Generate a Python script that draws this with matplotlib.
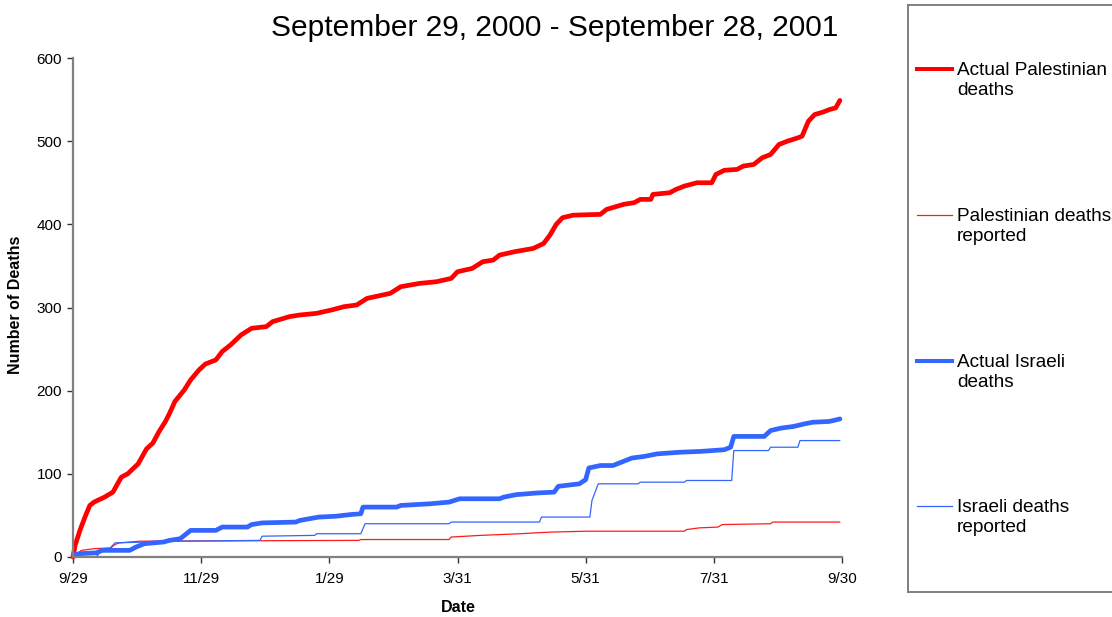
import matplotlib
matplotlib.use('Agg')
import matplotlib.pyplot as plt

plt.rcParams['font.family'] = ['Liberation Sans', 'DejaVu Sans']

# days since 9/29/2000 and cumulative deaths
pal_actual_days = [0, 1, 3.3, 5.7, 8, 10, 15, 19, 23, 26, 31, 35, 38, 41, 44, 46, 48.5, 53, 56, 60,
                   63, 68, 71, 75, 80, 85, 92, 95, 103, 108, 116, 123, 129, 135, 140, 151, 156, 165,
                   173, 180, 183, 190, 195, 200, 203, 210, 219, 224, 227, 230, 233, 238, 251, 254,
                   258, 262, 267, 270, 275, 276, 284, 287, 291, 297, 304, 306, 310, 316, 319, 324,
                   328, 332, 336, 340, 345, 347, 350, 353, 357, 360, 363, 365]
pal_actual = [0, 14, 32, 48, 62, 66, 72, 78, 96, 100, 112, 130, 137, 151, 163, 173, 187, 201, 213, 225,
              232, 237, 247, 255, 267, 275, 277, 283, 289, 291, 293, 297, 301, 303, 311, 317, 325, 329,
              331, 335, 343, 347, 355, 357, 363, 367, 371, 377, 387, 400, 408, 411, 412, 418,
              421, 424, 426, 430, 430, 436, 438, 442, 446, 450, 450, 460, 465, 466, 470, 472,
              480, 484, 496, 500, 504, 506, 524, 532, 535, 538, 540, 549]

pal_reported_days = [0, 4, 10, 18, 20, 22, 32, 136, 137, 179, 180, 194, 213, 220, 228, 244, 291, 292,
                     298, 307, 309, 332, 333, 365]
pal_reported = [0, 8, 10, 11, 15, 17, 19, 20, 21, 21, 24, 26, 28, 29, 30, 31, 31, 33,
                35, 36, 39, 40, 42, 42]

isr_actual_days = [0, 3, 11, 14, 27, 30, 34, 43, 46, 51, 56, 68, 71, 83, 85, 90, 106, 108, 117, 125,
                   132, 137, 138, 154, 156, 170, 179, 184, 203, 205, 211, 221, 229, 231, 241, 244,
                   245.5, 251, 257, 262, 266, 272, 278, 289, 299, 310, 313, 314.5, 329, 332, 337,
                   343, 348, 352, 360, 365]
isr_actual = [2, 4, 5, 8, 8, 12, 16, 18, 20, 22, 32, 32, 36, 36, 39, 41, 42, 44, 48, 49,
              51, 52, 60, 60, 62, 64, 66, 70, 70, 72, 75, 77, 78, 85, 88, 93,
              107, 110, 110, 115, 119, 121, 124, 126, 127, 129, 132, 145, 145, 152, 155,
              157, 160, 162, 163, 166]

isr_reported_days = [0, 11, 13, 17, 20, 50, 89, 90, 115, 116, 137, 139, 179, 180, 222, 223, 246, 247,
                     250, 269, 270, 291, 292, 313.5, 314.5, 331, 332, 345, 346, 365]
isr_reported = [0, 0, 6, 9, 17, 19, 20, 25, 26, 28, 28, 40, 40, 42, 42, 48, 48, 68,
                88, 88, 90, 90, 92, 92, 128, 128, 132, 132, 140, 140]

tick_days = [0, 61, 122, 183, 244, 305, 366]
tick_labels = ['9/29', '11/29', '1/29', '3/31', '5/31', '7/31', '9/30']

series = [
    ('Actual Palestinian\ndeaths', pal_actual_days, pal_actual, '#FF0000', 3.4),
    ('Palestinian deaths\nreported', pal_reported_days, pal_reported, '#FF1A1A', 0.9),
    ('Actual Israeli\ndeaths', isr_actual_days, isr_actual, '#3366FF', 3.4),
    ('Israeli deaths\nreported', isr_reported_days, isr_reported, '#3366FF', 0.9),
]

W, H = 1112, 617
fig = plt.figure(figsize=(W / 100, H / 100), dpi=100)
ax = fig.add_axes([73 / W, (H - 557) / H, (842 - 73) / W, (557 - 58) / H])

for label, xs, ys, color, lw in series:
    ax.plot(xs, ys, color=color, lw=lw, solid_joinstyle='round', solid_capstyle='round', clip_on=False)

ax.set_xlim(0, 366)
ax.set_ylim(0, 600)
ax.set_xticks(tick_days)
ax.set_xticklabels(tick_labels)
ax.set_yticks(range(0, 601, 100))
ax.tick_params(direction='out', length=4, width=1, color='#333333', labelsize=11, pad=4)
ax.tick_params(axis='x', pad=7)
for s in ['top', 'right']:
    ax.spines[s].set_visible(False)
for s in ['left', 'bottom']:
    ax.spines[s].set_color('#808080')
    ax.spines[s].set_linewidth(1.6)

fig.text(458 / W, 1 - 608 / H, 'Date', ha='center', va='center', fontsize=11.5, fontweight='bold')
fig.text(16 / W, 1 - 305 / H, 'Number of Deaths', ha='center', va='center', rotation=90,
         fontsize=11.5, fontweight='bold')
fig.text(555 / W, 1 - 28 / H, 'September 29, 2000 - September 28, 2001', ha='center', va='center',
         fontsize=21.5)

# legend box, runs past the right edge like the original
lax = fig.add_axes([908 / W, (H - 592) / H, 260 / W, (592 - 5) / H])
lax.set_xlim(908, 1168)
lax.set_ylim(592, 5)
lax.set_xticks([])
lax.set_yticks([])
for s in lax.spines.values():
    s.set_color('#808080')
    s.set_linewidth(1.4)
entry_y = [69, 215, 361, 506]
for (label, xs, ys, color, lw), y in zip(series, entry_y):
    lax.plot([917, 952], [y, y], color=color, lw=lw * 0.85 if lw > 2 else lw)
    lax.text(957, y + 11.5, label, ha='left', va='center', fontsize=13.7, linespacing=1.2)

fig.savefig('out.png', dpi=100)
